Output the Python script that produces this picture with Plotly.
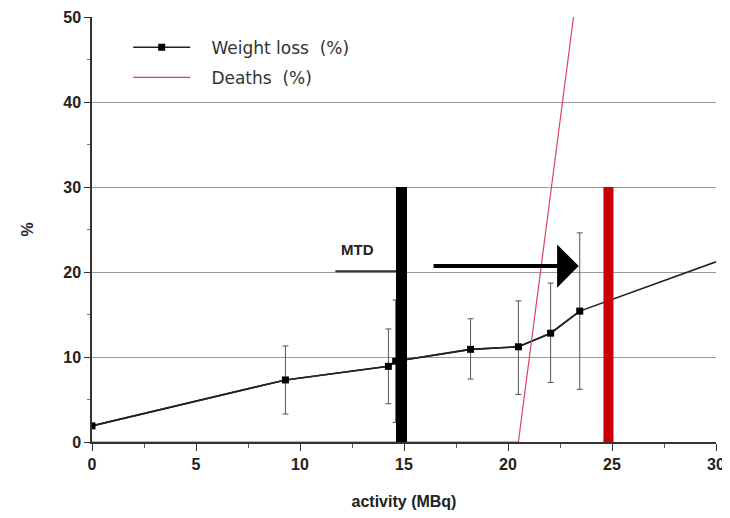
import plotly.graph_objects as go

# Weight loss (%) measured points
wl_x = [0.0, 9.3, 14.25, 14.6, 18.2, 20.5, 22.05, 23.45]
wl_y = [1.9, 7.3, 8.9, 9.5, 10.9, 11.2, 12.8, 15.4]
wl_err_plus = [0.0, 4.0, 4.4, 7.2, 3.6, 5.4, 5.9, 9.2]
wl_err_minus = [0.0, 4.0, 4.4, 7.2, 3.5, 5.6, 5.8, 9.2]
# fitted continuation to the axis end
wl_line_x = wl_x + [30.0]
wl_line_y = wl_y + [21.2]

# Deaths (%)
d_x = [0.0, 20.5, 23.15]
d_y = [0.0, 0.0, 50.0]

# Markers
mtd_x = 14.88
lethal_x = 24.83
bar_top = 30
arrow_from_x = 16.35
arrow_to_x = 23.4
arrow_y = 20.7
mtd_line_x = [11.7, 14.7]
mtd_line_y = [20.1, 20.1]

x_ticks = [0, 5, 10, 15, 20, 25, 30]
y_ticks = [0, 10, 20, 30, 40, 50]

font_fam = "Liberation Sans, Arial, sans-serif"
leg_fam = "DejaVu Sans, sans-serif"

fig = go.Figure()

# Weight loss line
fig.add_trace(go.Scatter(
    x=wl_line_x, y=wl_line_y, mode="lines",
    line=dict(color="#222222", width=1.6), showlegend=False, hoverinfo="skip"))

# Weight loss markers with error bars
fig.add_trace(go.Scatter(
    x=wl_x, y=wl_y, mode="lines+markers", name="   Weight loss  (%)",
    legendgroup="a",
    line=dict(color="#222222", width=1.6),
    marker=dict(symbol="square", size=7, color="black"),
    error_y=dict(type="data", array=wl_err_plus, arrayminus=wl_err_minus,
                 color="#555555", thickness=1, width=3)))

# Deaths line
fig.add_trace(go.Scatter(
    x=d_x, y=d_y, mode="lines", name="   Deaths  (%)",
    legendgroup="b",
    line=dict(color="#e0405a", width=1.2)))

# MTD underline
fig.add_trace(go.Scatter(
    x=mtd_line_x, y=mtd_line_y, mode="lines",
    line=dict(color="#333333", width=2), showlegend=False, hoverinfo="skip"))

# vertical bars
fig.add_trace(go.Scatter(
    x=[mtd_x, mtd_x], y=[0, bar_top], mode="lines",
    line=dict(color="black", width=11), showlegend=False, hoverinfo="skip"))
fig.add_trace(go.Scatter(
    x=[lethal_x, lethal_x], y=[0, bar_top], mode="lines",
    line=dict(color="#cc0000", width=10), showlegend=False, hoverinfo="skip"))

# arrow
fig.add_annotation(
    x=arrow_to_x, y=arrow_y, ax=arrow_from_x, ay=arrow_y,
    xref="x", yref="y", axref="x", ayref="y",
    showarrow=True, arrowhead=1, arrowsize=1.8, arrowwidth=4,
    arrowcolor="black", text="")

fig.add_annotation(
    x=12.75, y=22.6, xref="x", yref="y", text="MTD", showarrow=False,
    font=dict(family=font_fam, size=15, color="#222222", weight="bold"))

fig.update_layout(
    width=722, height=510,
    margin=dict(l=84, r=14, t=9, b=76),
    paper_bgcolor="white", plot_bgcolor="white",
    font=dict(family=font_fam, color="#222222"),
    legend=dict(x=0.058, y=0.970, xanchor="left", yanchor="top",
                bgcolor="rgba(255,255,255,0)",
                font=dict(family=leg_fam, size=17, color="#333333"),
                itemwidth=57, tracegroupgap=5),
    xaxis=dict(range=[0, 30], tickvals=x_ticks, showgrid=False, automargin=False,
               zeroline=False, showline=True, linecolor="#333333", linewidth=1.5,
               ticks="outside", ticklen=7, tickcolor="#333333",
               minor=dict(tickvals=[2.5, 7.5, 12.5, 17.5, 22.5, 27.5],
                          ticks="outside", ticklen=4, tickcolor="#555555"),
               tickfont=dict(family=font_fam, size=16, color="#222222", weight="bold"),
               title=dict(text="activity (MBq)", standoff=24,
                          font=dict(family=font_fam, size=16, color="#222222", weight="bold"))),
    yaxis=dict(range=[0, 50], tickvals=y_ticks, showgrid=True, automargin=False,
               gridcolor="#999999", gridwidth=1.2,
               zeroline=False, showline=True, linecolor="#333333", linewidth=1.5,
               ticks="outside", ticklen=6, tickcolor="#333333",
               minor=dict(tickvals=[5, 15, 25, 35, 45],
                          ticks="outside", ticklen=3, tickcolor="#777777"),
               tickfont=dict(family=font_fam, size=16, color="#222222", weight="bold"),
               title=dict(text="%", standoff=26,
                          font=dict(family=font_fam, size=16, color="#222222", weight="bold"))),
)

fig.write_html("out.html")
